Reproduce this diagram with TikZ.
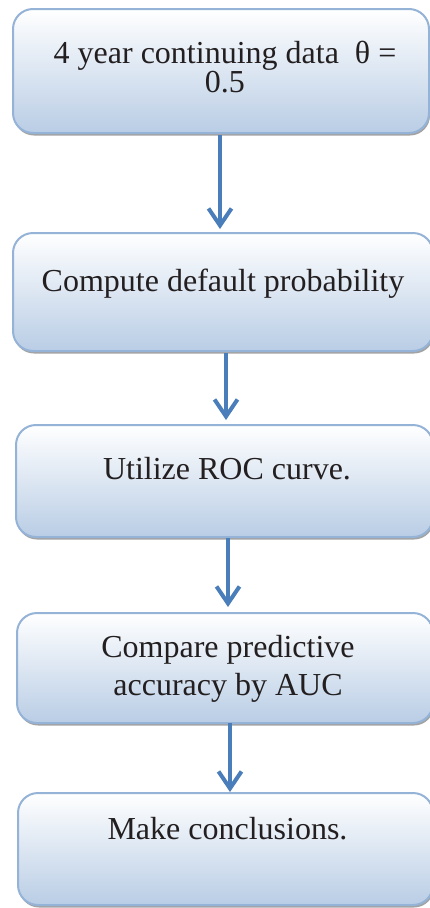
\documentclass[tikz,border=0pt]{standalone}
\usepackage{fontspec}
\setmainfont{Liberation Serif}
\usetikzlibrary{arrows.meta,shadows}

\definecolor{boxedge}{HTML}{95B3D7}
\definecolor{boxbot}{HTML}{B9CDE5}
\definecolor{arrowblue}{HTML}{4A7EBB}
\definecolor{ink}{HTML}{231F20}

\tikzset{
  stepbox/.style={rectangle, rounded corners=20pt, draw=boxedge, line width=2pt,
    top color=white, bottom color=boxbot, inner sep=0pt, outer sep=0pt,
    anchor=north west,
    drop shadow={shadow xshift=1pt, shadow yshift=-2.5pt, fill=black!45, opacity=0.8}},
  steptext/.style={text=ink, align=center, anchor=base,
    font=\fontsize{32}{29}\selectfont},
  flowarrow/.style={draw=arrowblue, line width=4pt,
    -{Straight Barb[length=17pt,width=23pt]}}
}

\begin{document}
\begin{tikzpicture}[x=1pt,y=-1pt]
  \useasboundingbox (0,0) rectangle (430,908);

  % process boxes
  \node[stepbox, minimum width=416pt, minimum height=124pt] (b1) at (13,9) {};
  \node[stepbox, minimum width=420pt, minimum height=118pt] (b2) at (13,233) {};
  \node[stepbox, minimum width=417pt, minimum height=112pt] (b3) at (16,425) {};
  \node[stepbox, minimum width=416pt, minimum height=110pt] (b4) at (17,613) {};
  \node[stepbox, minimum width=415pt, minimum height=112pt] (b5) at (18,793) {};

  % box labels (base anchor sits on the last line)
  \node[steptext] (t1) at (225,92) {4 year continuing data\ \ θ =\\0.5};
  \node[steptext] (t2) at (223,291) {Compute default probability};
  \node[steptext] (t3) at (227,479) {Utilize ROC curve.};
  \node[steptext, font=\fontsize{32}{37.5}\selectfont] (t4) at (228,695) {Compare predictive\\accuracy by AUC};
  \node[steptext] (t5) at (227.5,839) {Make conclusions.};

  % connectors
  \draw[flowarrow, shorten <=2pt, shorten >=4pt]
    ([xshift=-1pt]b1.south) -- ([xshift=-1pt]b1.south |- b2.north);
  \draw[flowarrow, shorten <=2pt, shorten >=5pt]
    ([xshift=3pt]b2.south) -- ([xshift=3pt]b2.south |- b3.north);
  \draw[flowarrow, shorten <=1pt, shorten >=6pt]
    ([xshift=3.5pt]b3.south) -- ([xshift=3.5pt]b3.south |- b4.north);
  \draw[flowarrow, shorten <=0pt, shorten >=1pt]
    ([xshift=5pt]b4.south) -- ([xshift=5pt]b4.south |- b5.north);
\end{tikzpicture}
\end{document}
